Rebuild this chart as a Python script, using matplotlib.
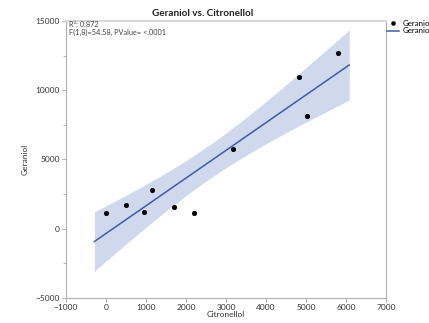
import numpy as np
import matplotlib
matplotlib.use("Agg")
import matplotlib.pyplot as plt
from matplotlib.lines import Line2D

plt.rcParams['font.family'] = ['Lato', 'DejaVu Sans']

citronellol = [0, 500, 950, 1150, 1700, 2200, 3180, 4830, 5020, 5790]
geraniol = [1170, 1720, 1240, 2820, 1580, 1130, 5720, 10980, 8130, 12700]
x_ticks = [-1000, 0, 1000, 2000, 3000, 4000, 5000, 6000, 7000]
y_ticks = [-5000, 0, 5000, 10000, 15000]
t_crit = 2.306  # t(0.975, df=8)

x = np.array(citronellol, float)
y = np.array(geraniol, float)
n = len(x)
b1, b0 = np.polyfit(x, y, 1)
resid = y - (b0 + b1 * x)
s = np.sqrt(np.sum(resid ** 2) / (n - 2))
sxx = np.sum((x - x.mean()) ** 2)
rng = x.max() - x.min()
xf = np.linspace(x.min() - 0.05 * rng, x.max() + 0.05 * rng, 200)
yf = b0 + b1 * xf
se = s * np.sqrt(1 / n + (xf - x.mean()) ** 2 / sxx)

fig = plt.figure(figsize=(4.29, 3.23), dpi=100)
ax = fig.add_axes([0.1538, 0.0774, 0.746, 0.858])

ax.fill_between(xf, yf - t_crit * se, yf + t_crit * se, color='#cfd8ec', lw=0)
ax.plot(xf, yf, color='#3d5ba9', lw=1.1)
ax.scatter(x, y, s=7, color='black', zorder=3)

ax.set_xlim(-1000, 7000)
ax.set_ylim(-5000, 15000)
ax.set_xticks(x_ticks)
ax.set_yticks(y_ticks)
ax.set_yticks(np.arange(-5000, 15001, 2500), minor=True)
ax.tick_params(labelsize=6, colors='#a0a0a0', labelcolor='#333333', length=3,
               width=0.6, pad=1.5)
ax.tick_params(which='minor', length=2, width=0.6, colors='#b0b0b0')
for sp in ax.spines.values():
    sp.set_color('#b0b0b0')
    sp.set_linewidth(0.8)
ax.spines['top'].set_color('#d8d8d8')
ax.spines['top'].set_linewidth(1.5)

ax.set_xlabel('Citronellol', fontsize=6, color='#333333', labelpad=0)
ax.set_ylabel('Geraniol', fontsize=6, color='#333333', labelpad=5)
fig.text(0.473, 1 - 13 / 323, 'Geraniol vs. Citronellol', ha='center', va='center',
         fontsize=7.2, fontweight='bold', color='#222222')

ax.text(0.01, 0.9856, 'R²: 0.872', transform=ax.transAxes, fontsize=5.3,
        color='#444444', va='center')
ax.text(0.01, 0.9586, 'F(1,8)=54.58, PValue= <.0001', transform=ax.transAxes,
        fontsize=5.3, color='#444444', va='center')

handles = [Line2D([], [], marker='o', color='black', ls='none', markersize=2.3),
           Line2D([], [], color='#3d5ba9', lw=1.1)]
fig.legend(handles, ['Geraniol', 'Geraniol'], loc='upper left',
           bbox_to_anchor=(387 / 429, 1 - 20 / 323), frameon=False, fontsize=5.7,
           handlelength=1.5, handletextpad=0.45, labelspacing=0.05,
           borderaxespad=0, borderpad=0)

fig.savefig('out.png', dpi=100)
